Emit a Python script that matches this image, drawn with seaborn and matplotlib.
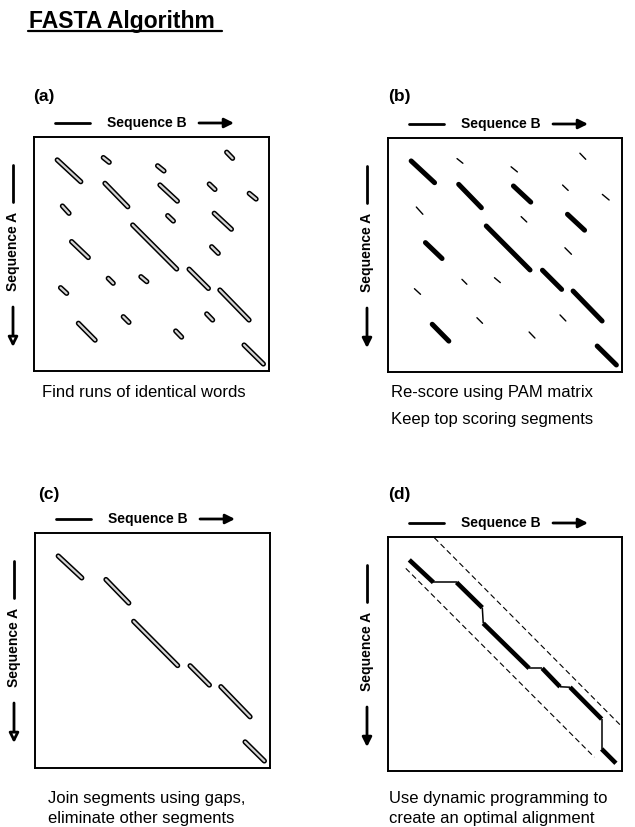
import matplotlib
matplotlib.use("Agg")
import matplotlib.pyplot as plt
import seaborn as sns
import pandas as pd

# ---------------- data ----------------
title = "FASTA Algorithm"
panel_labels = ["(a)", "(b)", "(c)", "(d)"]
axis_b_label = "Sequence B"
axis_a_label = "Sequence A"
captions = [
    ["Find runs of identical words"],
    ["Re-score using PAM matrix", "Keep top scoring segments"],
    ["Join segments using gaps,", "eliminate other segments"],
    ["Use dynamic programming to", "create an optimal alignment"],
]

# diagonal word-hit segments (Sequence B position, Sequence A position), 0..100
seg_x0 = [9.9, 29.5, 52.6, 82.0, 30.2, 53.6, 74.6, 91.6, 12.1, 56.9, 76.7, 16.0,
          42.0, 75.6, 31.6, 45.5, 66.0, 11.3, 79.1, 38.0, 73.5, 18.9, 60.3, 89.4]
seg_y0 = [9.8, 8.8, 12.3, 6.5, 19.8, 20.5, 20.1, 24.1, 29.5, 33.6, 32.6, 44.7,
          37.6, 46.9, 60.4, 59.7, 56.5, 64.4, 65.4, 76.8, 75.6, 79.6, 82.9, 88.9]
seg_x1 = [19.9, 32.0, 55.3, 84.5, 39.9, 61.0, 77.0, 94.5, 14.9, 59.3, 84.0, 23.1,
          60.7, 78.4, 33.7, 48.0, 74.2, 13.9, 91.5, 40.4, 76.0, 26.0, 62.8, 97.6]
seg_y1 = [19.1, 10.8, 14.5, 9.1, 29.8, 27.4, 22.4, 26.5, 32.6, 35.9, 39.4, 51.5,
          56.4, 49.7, 62.5, 61.8, 64.7, 66.8, 78.2, 79.2, 78.2, 86.8, 85.5, 97.0]
# top-scoring segments after PAM re-scoring (panel b)
top_scoring = [1, 5, 6, 11, 12, 13, 17, 19, 22, 24]
# segments joined into the alignment (panel c)
joined = [1, 5, 13, 17, 19, 24]

# optimal alignment path (panel d)
path_x = [9.1, 19.4, 29.3, 40.3, 40.7, 60.3, 65.9, 73.5, 77.8, 91.3, 91.3, 97.4]
path_y = [9.8, 19.4, 19.4, 30.2, 36.9, 56.1, 56.1, 64.0, 64.2, 77.8, 90.6, 96.7]
path_diag = [True, False, True, False, True, False, True, False, True, False, True]

band_upper_x = [19.8, 100.0]
band_upper_y = [0.3, 81.1]
band_lower_x = [7.6, 88.2]
band_lower_y = [13.4, 94.1]

# ---------------- figure ----------------
sns.set_style("white")
plt.rcParams["font.family"] = ["Liberation Sans", "DejaVu Sans"]
plt.rcParams["text.color"] = "black"

W, H = 635, 827
fig = plt.figure(figsize=(W / 100, H / 100), dpi=100)

# box pixel positions (left, top, right, bottom)
boxes = [(34, 137, 269, 371), (388, 138, 622, 372),
         (35, 533, 270, 768), (388, 537, 622, 771)]

segdf = pd.DataFrame({
    "id": list(range(1, len(seg_x0) + 1)) * 2,
    "x": seg_x0 + seg_x1,
    "y": seg_y0 + seg_y1,
})


def make_ax(box):
    l, t, r, b = box
    ax = fig.add_axes([l / W, 1 - b / H, (r - l) / W, (b - t) / H])
    ax.set_xlim(0, 100)
    ax.set_ylim(100, 0)
    ax.set_xticks([])
    ax.set_yticks([])
    for s in ax.spines.values():
        s.set_visible(True)
        s.set_color("black")
        s.set_linewidth(1.4)
    return ax


def outlined(ax, df):
    sns.lineplot(data=df, x="x", y="y", units="id", estimator=None, sort=False,
                 color="black", lw=3.8, solid_capstyle="round", legend=False, ax=ax)
    sns.lineplot(data=df, x="x", y="y", units="id", estimator=None, sort=False,
                 color="#d4d4d4", lw=1.6, solid_capstyle="round", legend=False, ax=ax)
    ax.set_xlabel("")
    ax.set_ylabel("")


# (a)
ax_a = make_ax(boxes[0])
outlined(ax_a, segdf)

# (b)
ax_b = make_ax(boxes[1])
thick_df = segdf[segdf["id"].isin(top_scoring)]
thin_df = segdf[~segdf["id"].isin(top_scoring)]
sns.lineplot(data=thin_df, x="x", y="y", units="id", estimator=None, sort=False,
             color="black", lw=1.0, solid_capstyle="round", legend=False, ax=ax_b)
sns.lineplot(data=thick_df, x="x", y="y", units="id", estimator=None, sort=False,
             color="black", lw=3.6, solid_capstyle="round", legend=False, ax=ax_b)
ax_b.set_xlabel("")
ax_b.set_ylabel("")

# (c)
ax_c = make_ax(boxes[2])
outlined(ax_c, segdf[segdf["id"].isin(joined)])

# (d)
ax_d = make_ax(boxes[3])
ax_d.plot(band_upper_x, band_upper_y, color="black", lw=0.8, dashes=(5, 3))
ax_d.plot(band_lower_x, band_lower_y, color="black", lw=0.8, dashes=(5, 3))
for i, diag in enumerate(path_diag):
    ax_d.plot(path_x[i:i + 2], path_y[i:i + 2], color="black",
              lw=3.3 if diag else 1.1, solid_capstyle="butt")

# ---------------- overlay for texts and arrows ----------------
ov = fig.add_axes([0, 0, 1, 1], zorder=10)
ov.set_xlim(0, W)
ov.set_ylim(H, 0)
ov.axis("off")
ov.patch.set_alpha(0)

ov.text(29, 28, title, fontsize=16.5, fontweight="bold", ha="left", va="baseline")
ov.plot([28, 222], [31, 31], color="black", lw=1.6)

label_pos = [(33, 97), (388, 97), (38, 494), (388, 494)]
for (x, y), lab in zip(label_pos, panel_labels):
    ov.text(x, y, lab, fontsize=12.5, fontweight="bold", ha="left", va="center")

open_vertical = [True, False, True, False]
for i, (l, t, r, b) in enumerate(boxes):
    # Sequence B header
    yh = t - 14
    ov.plot([l + 21, l + 56], [yh, yh], color="black", lw=2.0)
    ov.text(l + 113, yh, axis_b_label, fontsize=10, fontweight="bold",
            ha="center", va="center")
    ov.annotate("", xy=(l + 200, yh), xytext=(l + 165, yh),
                arrowprops=dict(arrowstyle="-|>", lw=2.0, ec="black", fc="black",
                                mutation_scale=14, shrinkA=0, shrinkB=0))
    # Sequence A side label
    xv = l - 21
    ov.plot([xv, xv], [t + 28, t + 65], color="black", lw=2.0)
    ov.text(xv, t + 114, axis_a_label, fontsize=10, fontweight="bold",
            ha="center", va="center", rotation=90)
    ov.annotate("", xy=(xv, t + 210), xytext=(xv, t + 170),
                arrowprops=dict(arrowstyle="-|>", lw=2.0, ec="black",
                                fc="white" if open_vertical[i] else "black",
                                mutation_scale=14, shrinkA=0, shrinkB=0))

# caption baselines and line spacing
cap_pos = [(42, 397), (391, 397), (48, 803), (389, 803)]
cap_step = [27, 27, 20, 20]
for (x, y), step, lines in zip(cap_pos, cap_step, captions):
    for k, line in enumerate(lines):
        ov.text(x, y + k * step, line, fontsize=12, ha="left", va="baseline")

fig.savefig("out.png", dpi=100)
